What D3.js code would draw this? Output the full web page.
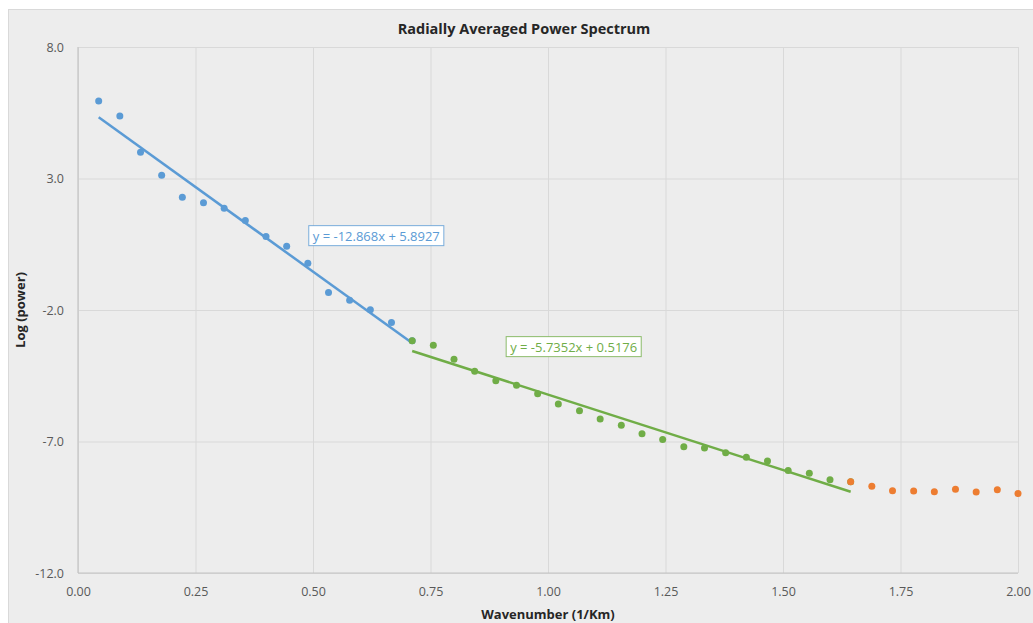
<!DOCTYPE html>
<meta charset="utf-8">

<!-- Load d3.js -->
<script src="https://d3js.org/d3.v7.min.js"></script>

<style>
    body { margin: 0; background: #ffffff; }
    text { font-family: "Open Sans", "Noto Sans", sans-serif; }
</style>

<!-- Create a div where the graph will take place -->
<div id="my_dataviz"></div>

<script>

    // ---- data ----
    const xTickValues = [0, 0.25, 0.5, 0.75, 1.0, 1.25, 1.5, 1.75, 2.0];
    const yTickValues = [8, 3, -2, -7, -12];

    // blue series (shallow part)
    const blueX = [0.044, 0.089, 0.133, 0.178, 0.222, 0.267, 0.311, 0.356, 0.400, 0.444,
                   0.489, 0.533, 0.578, 0.622, 0.667, 0.711];
    const blueY = [5.95, 5.38, 4.00, 3.12, 2.29, 2.08, 1.87, 1.40, 0.79, 0.42,
                   -0.22, -1.33, -1.63, -1.99, -2.48, -3.17];

    // green series (deeper part)
    const greenX = [0.711, 0.756, 0.800, 0.844, 0.889, 0.933, 0.978, 1.022, 1.067, 1.111,
                    1.156, 1.200, 1.244, 1.289, 1.333, 1.378, 1.422, 1.467, 1.511, 1.556,
                    1.600, 1.644];
    const greenY = [-3.17, -3.34, -3.87, -4.33, -4.69, -4.86, -5.18, -5.57, -5.83, -6.14,
                    -6.38, -6.71, -6.92, -7.20, -7.25, -7.43, -7.60, -7.74, -8.10, -8.21,
                    -8.45, -8.53];

    // orange series (noise)
    const orangeX = [1.644, 1.689, 1.733, 1.778, 1.822, 1.867, 1.911, 1.956, 2.000];
    const orangeY = [-8.53, -8.70, -8.87, -8.88, -8.91, -8.82, -8.92, -8.83, -8.98];

    // trend lines
    const blueFit = { slope: -12.868, intercept: 5.8927, label: "y = -12.868x + 5.8927" };
    const greenFit = { slope: -5.7352, intercept: 0.5176, label: "y = -5.7352x + 0.5176" };

    const blue = "#5b9bd5", green = "#70ad47", orange = "#ed7d31";

    // set the dimensions and margins of the graph
    const margin = { top: 47, right: 15, bottom: 50, left: 78 },
        width = 1033 - margin.left - margin.right,
        height = 623 - margin.top - margin.bottom;

    const svgRoot = d3.select("#my_dataviz")
        .append("svg")
        .attr("width", 1033)
        .attr("height", 623);

    // chart area background
    svgRoot.append("rect")
        .attr("x", 8.5).attr("y", 9.5)
        .attr("width", 1040).attr("height", 620)
        .attr("fill", "#ededed")
        .attr("stroke", "#d9d9d9");

    const svg = svgRoot.append("g")
        .attr("transform", `translate(${margin.left},${margin.top})`);

    // scales
    const x = d3.scaleLinear().domain([0, 2]).range([0, width]);
    const y = d3.scaleLinear().domain([-12, 8]).range([height, 0]);

    // gridlines
    svg.append("g")
        .attr("transform", "translate(0," + height + ")")
        .call(d3.axisBottom(x).tickValues(xTickValues).tickSize(-height).tickFormat(""))
        .call(g => g.select(".domain").remove())
        .selectAll("line").attr("stroke", "#d9d9d9");
    svg.append("g")
        .call(d3.axisLeft(y).tickValues(yTickValues).tickSize(-width).tickFormat(""))
        .call(g => g.select(".domain").remove())
        .selectAll("line").attr("stroke", "#d9d9d9");

    // axis lines
    svg.append("line")
        .attr("x1", x(0)).attr("x2", x(0)).attr("y1", y(8)).attr("y2", y(-12))
        .attr("stroke", "#c4c4c4").attr("stroke-width", 1.2);
    svg.append("line")
        .attr("x1", x(0)).attr("x2", x(2)).attr("y1", y(-12)).attr("y2", y(-12))
        .attr("stroke", "#c4c4c4").attr("stroke-width", 1.2);

    // tick labels (plain hyphen for minus, like the original)
    const xAxis = svg.append("g")
        .attr("transform", "translate(0," + height + ")")
        .call(d3.axisBottom(x).tickValues(xTickValues).tickSize(0).tickPadding(14)
            .tickFormat(d => d.toFixed(2)));
    xAxis.select(".domain").remove();
    xAxis.selectAll("text").attr("font-size", 12.5).attr("fill", "#595959")
        .style("font-family", "'Open Sans', sans-serif");

    const yAxis = svg.append("g")
        .call(d3.axisLeft(y).tickValues(yTickValues).tickSize(0).tickPadding(14)
            .tickFormat(d => d.toFixed(1)));
    yAxis.select(".domain").remove();
    yAxis.selectAll("text").attr("font-size", 12.5).attr("fill", "#595959")
        .style("font-family", "'Open Sans', sans-serif");

    // trendlines
    function drawFit(fit, xs, color) {
        const ext = d3.extent(xs);
        svg.append("path")
            .datum(ext)
            .attr("fill", "none")
            .attr("stroke", color)
            .attr("stroke-width", 2.5)
            .attr("d", d3.line()
                .x(function (d) { return x(d) })
                .y(function (d) { return y(fit.slope * d + fit.intercept) })
            );
    }
    drawFit(blueFit, blueX, blue);
    drawFit(greenFit, greenX, green);

    // dots
    function drawDots(xs, ys, color) {
        svg.selectAll(null)
            .data(xs.map((v, i) => ({ x: v, y: ys[i] })))
            .enter()
            .append("circle")
            .attr("cx", function (d) { return x(d.x); })
            .attr("cy", function (d) { return y(d.y); })
            .attr("r", 3.5)
            .style("fill", color);
    }
    drawDots(blueX, blueY, blue);
    drawDots(greenX, greenY, green);
    drawDots(orangeX, orangeY, orange);

    // trendline equation labels
    function drawLabel(fit, lx, ly, color) {
        const g = svg.append("g");
        const t = g.append("text")
            .attr("x", x(lx) + 4)
            .attr("y", y(ly))
            .attr("dy", "0.35em")
            .attr("font-size", 13)
            .attr("fill", color)
            .text(fit.label);
        const bb = t.node().getBBox();
        g.insert("rect", "text")
            .attr("x", bb.x - 4).attr("y", bb.y - 1)
            .attr("width", bb.width + 8).attr("height", bb.height + 2)
            .attr("fill", "#ffffff")
            .attr("stroke", color)
            .attr("stroke-opacity", 0.8)
            .attr("stroke-width", 1);
    }
    drawLabel(blueFit, 0.491, 0.81, blue);
    drawLabel(greenFit, 0.911, -3.41, green);

    // title
    svgRoot.append("text")
        .attr("x", 524).attr("y", 29)
        .attr("dy", "0.35em")
        .attr("text-anchor", "middle")
        .attr("font-size", 14.5)
        .attr("font-weight", "bold")
        .attr("fill", "#262626")
        .text("Radially Averaged Power Spectrum");

    // axis titles
    svgRoot.append("text")
        .attr("x", margin.left + x(1)).attr("y", 614)
        .attr("dy", "0.35em")
        .attr("text-anchor", "middle")
        .attr("font-size", 13)
        .attr("font-weight", "bold")
        .attr("fill", "#262626")
        .text("Wavenumber (1/Km)");
    svgRoot.append("text")
        .attr("transform", "translate(20," + (margin.top + y(-2)) + ")rotate(-90)")
        .attr("dy", "0.35em")
        .attr("text-anchor", "middle")
        .attr("font-size", 13)
        .attr("font-weight", "bold")
        .attr("fill", "#262626")
        .text("Log (power)");

</script>
